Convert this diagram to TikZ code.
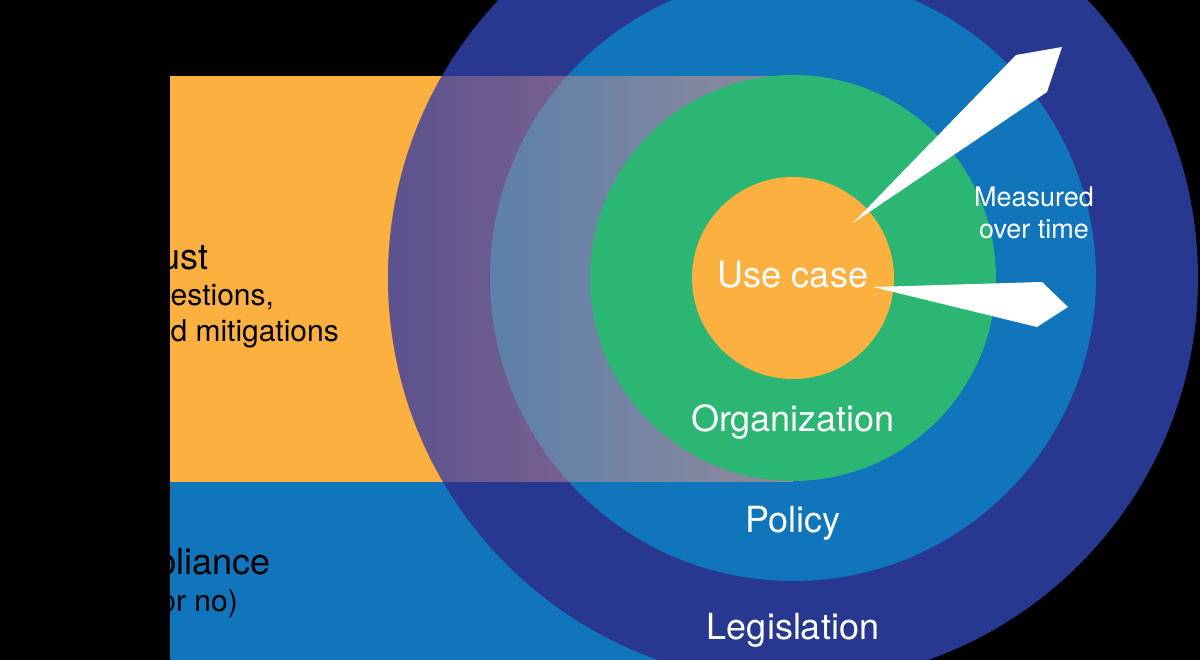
\documentclass[tikz,border=0pt]{standalone}
\usepackage{fontspec}
\setmainfont{TeX Gyre Heros}
\usepackage{tikz}
\usetikzlibrary{positioning,fadings}
\definecolor{RingNavy}{HTML}{283891}
\definecolor{RingBlue}{HTML}{1075BB}
\definecolor{RingGreen}{HTML}{2BB673}
\definecolor{RingOrange}{HTML}{FBB040}
\definecolor{RingTint}{HTML}{E1968A}
\tikzfading[name=tintfade, left color=transparent!72, right color=transparent!38]

\begin{document}
\begin{tikzpicture}[x=1pt,y=1pt,
    ringlabel/.style={text=white,inner sep=0pt,anchor=base,font=\fontsize{36}{40}\selectfont},
    sidehead/.style={text=black,inner sep=0pt,anchor=base west,font=\fontsize{36}{40}\selectfont},
    sidenote/.style={text=black,inner sep=0pt,anchor=base west,font=\fontsize{30}{36}\selectfont}]
  \useasboundingbox (0,0) rectangle (1200,660);
  \fill[black] (0,0) rectangle (1200,660);
  \coordinate (core) at (793,382);
  % the two bands on the left
  \fill[RingOrange] (170,178) rectangle (793,584);
  \fill[RingBlue] (170,0) rectangle (793,178);
  \begin{scope}
    \clip (170,178) rectangle (793,584);
    \node[sidehead] (trust) at (130,390) {Trust};
    \node[sidenote] (trustq) at (137,354) {questions,};
    \node[sidenote] (trustm) at (137,318) {and mitigations};
  \end{scope}
  \begin{scope}
    \clip (170,0) rectangle (793,178);
    \node[sidehead] (comp) at (80,85) {Compliance};
    \node[sidenote] (compyn) at (95,48) {(yes or no)};
  \end{scope}
  % rings
  \fill[RingNavy] (core) circle (405);
  \fill[RingBlue] (core) circle (303);
  \begin{scope}
    \clip (core) circle (405);
    \fill[RingTint,path fading=tintfade] (388,178) rectangle (793,584);
  \end{scope}
  \fill[RingGreen] (core) circle (203);
  \fill[RingOrange] (core) circle (101);
  % pointers
  \fill[white] (853,437) -- (1016,605) -- (1062,613) -- (1047,568) -- cycle;
  \fill[white] (873,373) -- (1042,378) -- (1068,353) -- (1037,333) -- cycle;
  \node[ringlabel] (usecase) at (793,372) {Use case};
  \node[ringlabel] (org) at (793,228) {Organization};
  \node[ringlabel] (policy) at (793,127) {Policy};
  \node[ringlabel] (law) at (793,20) {Legislation};
  \node[text=white,inner sep=0pt,anchor=north,align=center,
    font=\fontsize{27}{32}\selectfont] (measured) at (1034,473) {Measured\\over time};
\end{tikzpicture}
\end{document}
